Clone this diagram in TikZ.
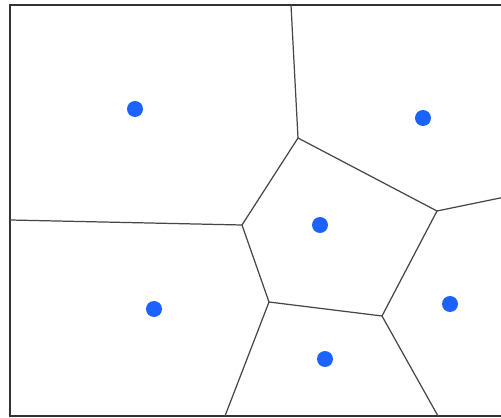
\documentclass[tikz,border=0pt]{standalone}
\definecolor{SiteBlue}{RGB}{28,98,255}
\definecolor{EdgeGrey}{RGB}{70,70,70}

\begin{document}
\begin{tikzpicture}[x=0.02cm, y=-0.02cm]
                \clip (0,0) rectangle (501,418);
                % Frame
                \draw[line width=1.1pt, black!80] (510,5) -- (10,5) -- (10,416) -- (510,416);

                % Sites
                \node[circle, fill=SiteBlue, inner sep=0pt, minimum size=0.32cm] (s1) at (135,109) {};
                \node[circle, fill=SiteBlue, inner sep=0pt, minimum size=0.32cm] (s2) at (423,118) {};
                \node[circle, fill=SiteBlue, inner sep=0pt, minimum size=0.32cm] (s3) at (320,225) {};
                \node[circle, fill=SiteBlue, inner sep=0pt, minimum size=0.32cm] (s4) at (154,309) {};
                \node[circle, fill=SiteBlue, inner sep=0pt, minimum size=0.32cm] (s5) at (450,304) {};
                \node[circle, fill=SiteBlue, inner sep=0pt, minimum size=0.32cm] (s6) at (325,359) {};

                % Vertices of the middle cell
                \coordinate (v1) at (298,138);
                \coordinate (v2) at (437,211);
                \coordinate (v3) at (382,316);
                \coordinate (v4) at (269,302);
                \coordinate (v5) at (242,225);

                % Ends on the frame
                \coordinate (e1) at (291,5);
                \coordinate (e2) at (505,197);
                \coordinate (e3) at (438,416);
                \coordinate (e4) at (225,416);
                \coordinate (e5) at (10,220);

                % Cell edges
                \draw[EdgeGrey, line width=0.7pt] (v1) -- (v2) -- (v3) -- (v4) -- (v5) -- cycle;
                \draw[EdgeGrey, line width=0.7pt] (v1) -- (e1);
                \draw[EdgeGrey, line width=0.7pt] (v2) -- (e2);
                \draw[EdgeGrey, line width=0.7pt] (v3) -- (e3);
                \draw[EdgeGrey, line width=0.7pt] (v4) -- (e4);
                \draw[EdgeGrey, line width=0.7pt] (v5) -- (e5);
            \end{tikzpicture}
\end{document}
